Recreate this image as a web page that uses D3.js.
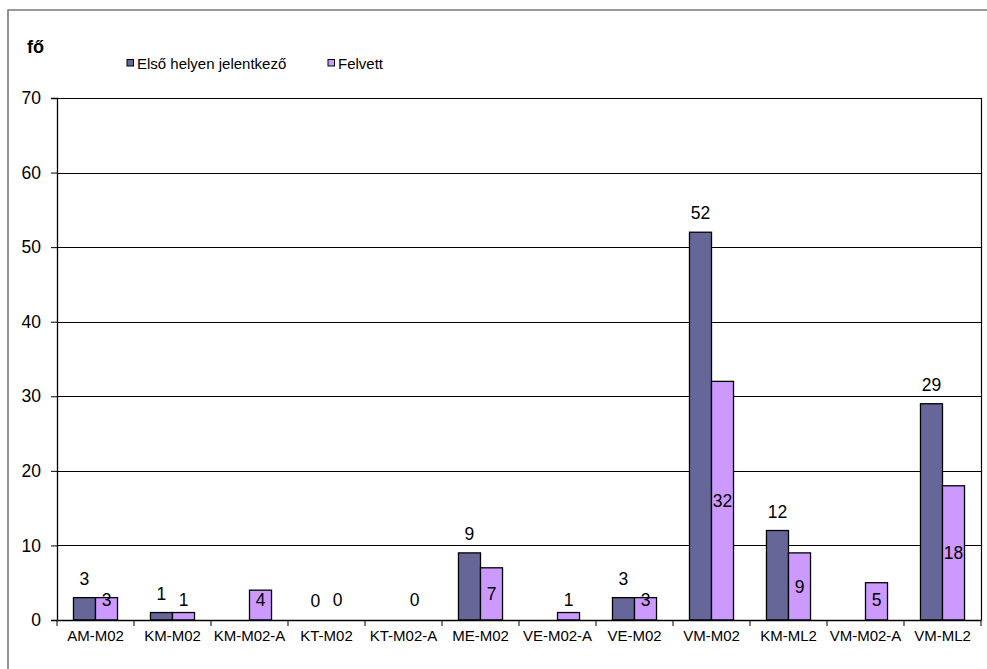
<!DOCTYPE html>
<html>
<head>
<meta charset="utf-8">
<script src="https://cdn.jsdelivr.net/npm/d3@7"></script>
<style>
  html, body { margin: 0; padding: 0; background: #fff; }
  svg { display: block; font-family: "Liberation Sans", Arial, sans-serif; }
</style>
</head>
<body>
<svg id="chart" width="987" height="669"></svg>
<script>
const categories = ["AM-M02", "KM-M02", "KM-M02-A", "KT-M02", "KT-M02-A", "ME-M02", "VE-M02-A", "VE-M02", "VM-M02", "KM-ML2", "VM-M02-A", "VM-ML2"];
const firstPlace = [3, 1, null, 0, null, 9, null, 3, 52, 12, null, 29];
const admitted = [3, 1, 4, 0, 0, 7, 1, 3, 32, 9, 5, 18];
const seriesNames = ["Első helyen jelentkező", "Felvett"];
const yTicks = [0, 10, 20, 30, 40, 50, 60, 70];
const yUnit = "fő";

const colors = ["#666699", "#CC99FF"];

const svg = d3.select("#chart");
const plot = { left: 57, right: 981, top: 98, bottom: 620 };

// outer chart border
svg.append("path")
  .attr("d", "M8,669 L8,10 L987,10")
  .attr("fill", "none").attr("stroke", "#7a7a7a").attr("stroke-width", 1.6);

const x0 = d3.scaleBand().domain(categories)
  .range([plot.left, plot.right]).paddingInner(0.428).paddingOuter(0.214);
const x1 = d3.scaleBand().domain([0, 1]).range([0, x0.bandwidth()]);
const y = d3.scaleLinear().domain([0, 70]).range([plot.bottom, plot.top]);

// gridlines
svg.append("g").selectAll("line").data(yTicks.filter(t => t > 0 && t < 70)).join("line")
  .attr("x1", plot.left).attr("x2", plot.right)
  .attr("y1", d => Math.round(y(d)) + 0.5).attr("y2", d => Math.round(y(d)) + 0.5)
  .attr("stroke", "#000").attr("stroke-width", 1);

// plot area frame (top & right)
svg.append("path")
  .attr("d", `M${plot.left},${plot.top + 0.5} L${plot.right + 0.5},${plot.top + 0.5} L${plot.right + 0.5},${plot.bottom}`)
  .attr("fill", "none").attr("stroke", "#000").attr("stroke-width", 1.2);

// bars
const series = [firstPlace, admitted];
series.forEach((vals, si) => {
  svg.append("g").selectAll("rect")
    .data(categories.map((c, i) => ({ c, v: vals[i] })).filter(d => d.v !== null && d.v > 0))
    .join("rect")
    .attr("x", d => x0(d.c) + x1(si))
    .attr("y", d => y(d.v))
    .attr("width", x1.bandwidth())
    .attr("height", d => y(0) - y(d.v))
    .attr("fill", colors[si])
    .attr("stroke", "#000").attr("stroke-width", 1.3);
});

// y axis
const yAxis = svg.append("g").attr("transform", `translate(${plot.left},0)`)
  .call(d3.axisLeft(y).tickValues(yTicks).tickSize(6).tickPadding(10).tickFormat(d3.format("d")));
yAxis.select(".domain").attr("stroke", "#000").attr("stroke-width", 1.3);
yAxis.selectAll(".tick line").attr("stroke", "#000");
yAxis.selectAll(".tick text").attr("font-size", 17.5).attr("fill", "#000")
  .attr("font-family", "Liberation Sans, Arial, sans-serif");

// x axis
const boundaries = d3.range(categories.length + 1).map(i => plot.left + i * x0.step());
const xg = svg.append("g");
xg.append("line").attr("x1", plot.left).attr("x2", plot.right + 0.5)
  .attr("y1", plot.bottom + 0.5).attr("y2", plot.bottom + 0.5)
  .attr("stroke", "#000").attr("stroke-width", 1.3);
xg.selectAll("line.tk").data(boundaries).join("line").attr("class", "tk")
  .attr("x1", d => d).attr("x2", d => d)
  .attr("y1", plot.bottom).attr("y2", plot.bottom + 6)
  .attr("stroke", "#000");
xg.selectAll("text").data(categories).join("text")
  .attr("x", d => x0(d) + x0.bandwidth() / 2)
  .attr("y", plot.bottom + 16)
  .attr("dy", "0.35em")
  .attr("text-anchor", "middle")
  .attr("font-size", 15)
  .text(d => d);

// data labels: first-place above bar
svg.append("g").selectAll("text")
  .data(categories.map((c, i) => ({ c, v: firstPlace[i] })).filter(d => d.v !== null))
  .join("text")
  .attr("x", d => x0(d.c) + x1(0) + x1.bandwidth() / 2)
  .attr("y", d => y(d.v) - 19)
  .attr("dy", "0.35em")
  .attr("text-anchor", "middle")
  .attr("font-size", 17.5)
  .text(d => d.v);

// data labels: admitted centred in bar
svg.append("g").selectAll("text")
  .data(categories.map((c, i) => ({ c, v: admitted[i] })).filter(d => d.v !== null))
  .join("text")
  .attr("x", d => x0(d.c) + x1(1) + x1.bandwidth() / 2)
  .attr("y", d => Math.min((y(d.v) + y(0)) / 2, plot.bottom - 20))
  .attr("dy", "0.35em")
  .attr("text-anchor", "middle")
  .attr("font-size", 17.5)
  .text(d => d.v);

// unit label
svg.append("text").attr("x", 27).attr("y", 53)
  .attr("font-size", 18).attr("font-weight", "bold")
  .attr("font-family", "Liberation Sans, Arial, sans-serif").text(yUnit);

// legend
const legendX = [127, 328];
const lg = svg.append("g");
seriesNames.forEach((n, i) => {
  lg.append("rect").attr("x", legendX[i]).attr("y", 59.5).attr("width", 6.5).attr("height", 6.5)
    .attr("fill", colors[i]).attr("stroke", "#000").attr("stroke-width", 1);
  lg.append("text").attr("x", legendX[i] + 10).attr("y", 68.5)
    .attr("font-size", 15).text(n);
});
</script>
</body>
</html>
